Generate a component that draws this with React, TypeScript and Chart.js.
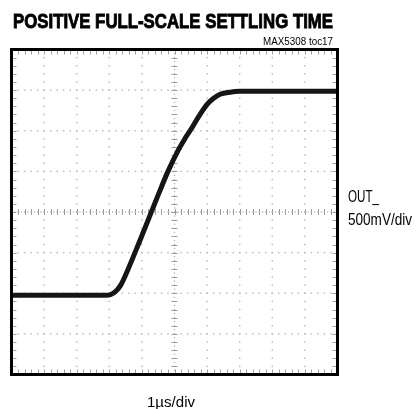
import React, { useEffect, useLayoutEffect, useRef } from "react";
import { Chart, registerables } from "chart.js";
Chart.register(...registerables);

// Time axis in divisions (1 µs/div), output in divisions (500 mV/div)
const timeDiv = [0, 1, 2, 2.9, 3.05, 3.2, 3.35, 3.5, 3.94, 4.5, 4.8, 5.1, 5.3, 5.5, 5.75, 6.0, 6.2, 6.4, 6.7, 7.0, 8, 9, 10];
const outDiv = [1.95, 1.95, 1.95, 1.95, 1.97, 2.05, 2.2, 2.45, 3.3, 4.42, 5.0, 5.5, 5.78, 6.03, 6.36, 6.65, 6.8, 6.9, 6.95, 6.97, 6.97, 6.97, 6.97];

const X_DIVS = 10;
const Y_DIVS = 8;
const MINOR = 5;

const TITLE = "POSITIVE FULL-SCALE SETTLING TIME";
const NOTE = "MAX5308 toc17";
const Y_LABEL_1 = "OUT_";
const Y_LABEL_2 = "500mV/div";
const X_LABEL = "1\u00b5s/div";

const FONT = '"Liberation Sans Narrow", "Liberation Sans", Arial, sans-serif';

const scopePlugin = {
  id: "scope",
  beforeDatasetsDraw(chart: any) {
    const { ctx, chartArea: a, scales } = chart;
    const x = scales.x;
    const y = scales.y;
    ctx.save();
    // dotted major gridlines
    ctx.fillStyle = "#bdbdbd";
    for (let j = 1; j < Y_DIVS; j++) {
      if (j === Y_DIVS / 2) continue;
      const py = y.getPixelForValue(j);
      for (let m = 1; m < X_DIVS * MINOR; m++) {
        const px = x.getPixelForValue(m / MINOR);
        ctx.fillRect(px - 0.75, py - 0.75, 1.5, 1.5);
      }
    }
    for (let i = 1; i < X_DIVS; i++) {
      if (i === X_DIVS / 2) continue;
      const px = x.getPixelForValue(i);
      for (let m = 1; m < Y_DIVS * MINOR; m++) {
        const py = y.getPixelForValue(m / MINOR);
        ctx.fillRect(px - 0.75, py - 0.75, 1.5, 1.5);
      }
    }
    // center cross with ticks
    ctx.strokeStyle = "#9a9a9a";
    ctx.lineWidth = 1;
    const cx = x.getPixelForValue(X_DIVS / 2);
    const cy = y.getPixelForValue(Y_DIVS / 2);
    ctx.beginPath();
    for (let m = 1; m < Y_DIVS * MINOR; m++) {
      const py = Math.round(y.getPixelForValue(m / MINOR)) + 0.5;
      ctx.moveTo(cx - 3, py);
      ctx.lineTo(cx + 3, py);
    }
    for (let m = 1; m < X_DIVS * MINOR; m++) {
      const px = Math.round(x.getPixelForValue(m / MINOR)) + 0.5;
      ctx.moveTo(px, cy - 3);
      ctx.lineTo(px, cy + 3);
    }
    ctx.stroke();
    ctx.fillStyle = "#a8a8a8";
    for (let m = 1; m < Y_DIVS * MINOR * 2; m++) {
      const py = y.getPixelForValue(m / (MINOR * 2));
      ctx.fillRect(cx - 0.6, py - 0.6, 1.2, 1.2);
    }
    for (let m = 1; m < X_DIVS * MINOR * 2; m++) {
      const px = x.getPixelForValue(m / (MINOR * 2));
      ctx.fillRect(px - 0.6, cy - 0.6, 1.2, 1.2);
    }
    // border ticks
    ctx.strokeStyle = "#a0a0a0";
    ctx.beginPath();
    for (let m = 1; m < Y_DIVS * MINOR; m++) {
      const py = Math.round(y.getPixelForValue(m / MINOR)) + 0.5;
      ctx.moveTo(a.left, py);
      ctx.lineTo(a.left + 5, py);
      ctx.moveTo(a.right, py);
      ctx.lineTo(a.right - 5, py);
    }
    for (let m = 1; m < X_DIVS * MINOR; m++) {
      const px = Math.round(x.getPixelForValue(m / MINOR)) + 0.5;
      ctx.moveTo(px, a.top);
      ctx.lineTo(px, a.top + 5);
      ctx.moveTo(px, a.bottom);
      ctx.lineTo(px, a.bottom - 5);
    }
    ctx.stroke();
    ctx.restore();
  },
  afterDatasetsDraw(chart: any) {
    const { ctx, chartArea: a } = chart;
    ctx.save();
    ctx.strokeStyle = "#000";
    ctx.lineWidth = 3;
    ctx.strokeRect(a.left, a.top, a.right - a.left, a.bottom - a.top);
    ctx.restore();
  },
};

function FitText(props: {
  text: string;
  left: number;
  right: number;
  top: number;
  size: number;
  weight?: number;
  stroke?: number;
}) {
  const ref = useRef<HTMLDivElement>(null);
  useLayoutEffect(() => {
    const el = ref.current;
    if (!el) return;
    el.style.transform = "none";
    const w = el.getBoundingClientRect().width;
    if (w > 0) el.style.transform = `scaleX(${(props.right - props.left) / w})`;
  }, [props.text, props.left, props.right, props.size]);
  return (
    <div
      ref={ref}
      style={{
        position: "absolute",
        left: props.left,
        top: props.top,
        fontSize: props.size,
        fontWeight: props.weight ?? 400,
        fontFamily: FONT,
        lineHeight: 1,
        whiteSpace: "nowrap",
        transformOrigin: "left top",
        color: "#000",
        WebkitTextStroke: props.stroke ? `${props.stroke}px #000` : undefined,
      }}
    >
      {props.text}
    </div>
  );
}

export default function App() {
  const canvasRef = useRef<HTMLCanvasElement>(null);

  useEffect(() => {
    const canvas = canvasRef.current;
    if (!canvas) return;
    const chart = new Chart(canvas, {
      type: "line",
      data: {
        datasets: [
          {
            data: timeDiv.map((t, i) => ({ x: t, y: outDiv[i] })),
            borderColor: "#151515",
            borderWidth: 5,
            pointRadius: 0,
            cubicInterpolationMode: "monotone",
            fill: false,
          },
        ],
      },
      options: {
        animation: false,
        responsive: false,
        devicePixelRatio: 1,
        layout: { padding: { left: 11.5, top: 49.5, right: 81.5, bottom: 34.5 } },
        plugins: { legend: { display: false }, tooltip: { enabled: false }, title: { display: false } },
        scales: {
          x: { type: "linear", min: 0, max: X_DIVS, display: false },
          y: { type: "linear", min: 0, max: Y_DIVS, display: false },
        },
      },
      plugins: [scopePlugin],
    });
    return () => chart.destroy();
  }, []);

  return (
    <div style={{ position: "absolute", left: 0, top: 0, width: 419, height: 409, background: "#fff", overflow: "hidden" }}>
      <canvas ref={canvasRef} width={419} height={409} style={{ position: "absolute", left: 0, top: 0 }} />
      <FitText text={TITLE} left={13} right={333} top={10.3} size={21} weight={700} stroke={0.9} />
      <FitText text={NOTE} left={263} right={333} top={36.7} size={10} />
      <FitText text={Y_LABEL_1} left={348} right={379} top={189} size={16} />
      <FitText text={Y_LABEL_2} left={348} right={412} top={212} size={16} />
      <FitText text={X_LABEL} left={147} right={195} top={395} size={14} />
    </div>
  );
}
